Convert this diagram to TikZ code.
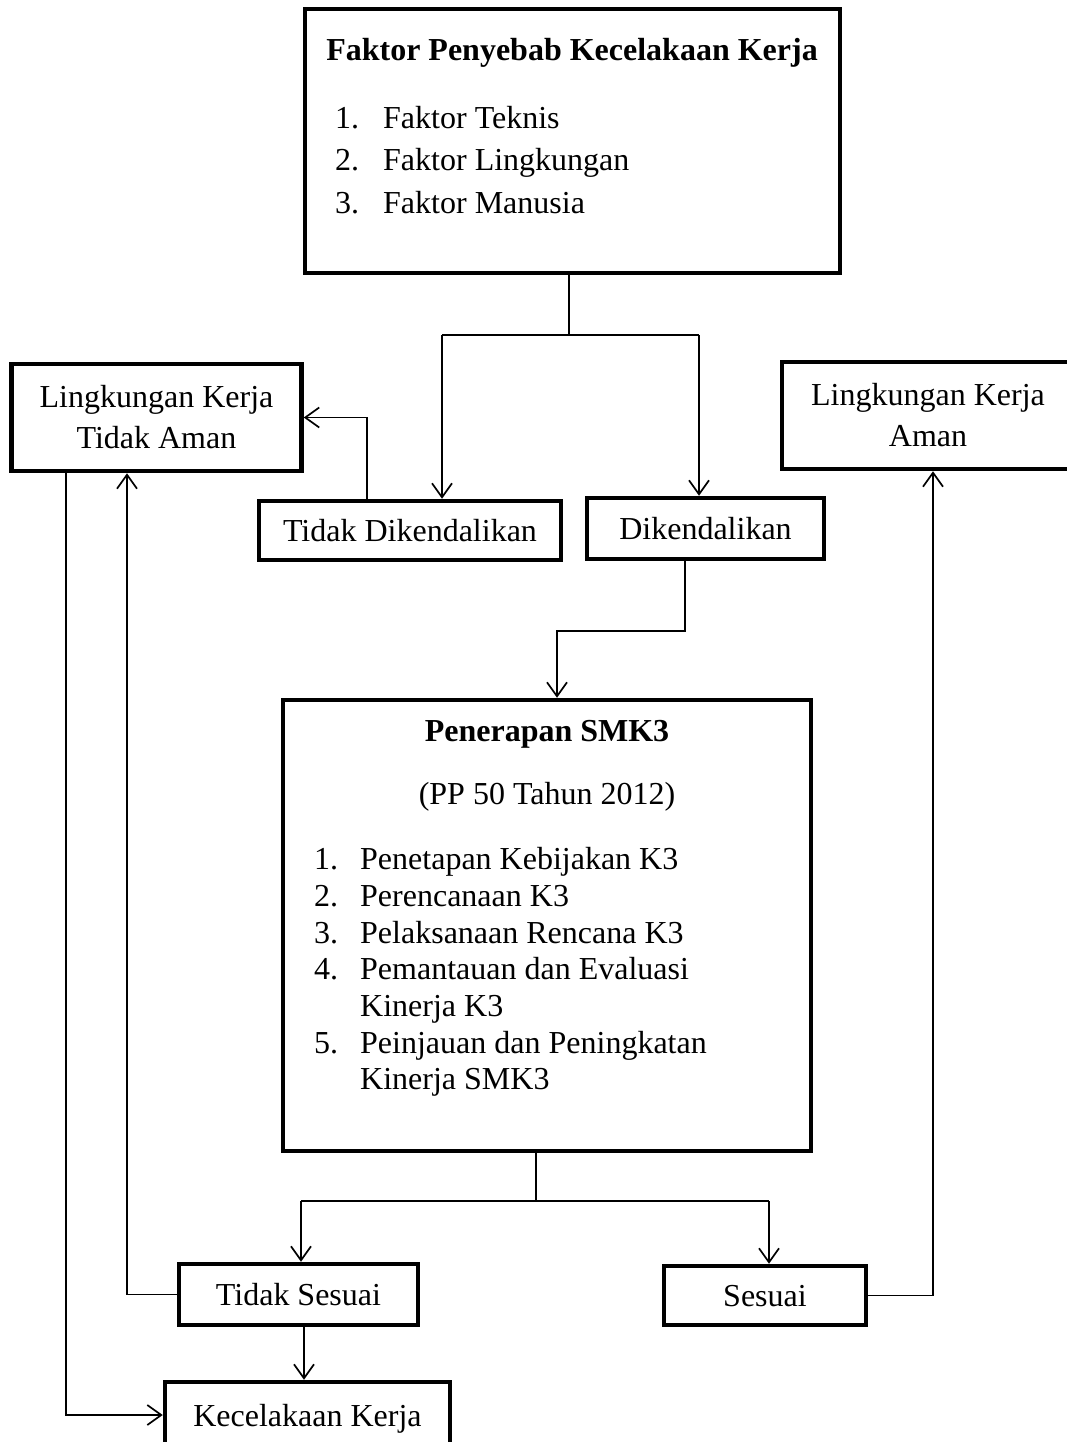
\documentclass[tikz,border=0pt]{standalone}
\usepackage{fontspec}
\setmainfont{Liberation Serif}
\usetikzlibrary{arrows.meta}
\begin{document}
\begin{tikzpicture}[x=1pt,y=-1pt,
  font=\fontsize{32}{41}\selectfont,
  box/.style={draw, line width=4.5pt, inner sep=0pt, align=center},
  sbox/.style={box, text height=22pt, text depth=0pt},
  txt/.style={inner sep=0pt, text height=22pt, text depth=0pt},
  conn/.style={line width=1.7pt},
  arr/.style={conn, -{Straight Barb[length=14pt,width=20pt]}}]
\useasboundingbox (0,0) rectangle (1067,1442);
\clip (0,0) rectangle (1067,1442);

% top box
\node[box, minimum width=535pt, minimum height=264pt] (top) at (572.5,141) {};
\node[txt, font=\fontsize{32}{41}\selectfont\bfseries] (toptitle) at (572,50) {Faktor Penyebab Kecelakaan Kerja};
\node[txt, anchor=west] (tn1) at (335,118) {1.};
\node[txt, anchor=west] (tt1) at (383,118) {Faktor Teknis};
\node[txt, anchor=west] (tn2) at (335,160) {2.};
\node[txt, anchor=west] (tt2) at (383,160) {Faktor Lingkungan};
\node[txt, anchor=west] (tn3) at (335,203) {3.};
\node[txt, anchor=west] (tt3) at (383,203) {Faktor Manusia};

% side boxes
\node[box, minimum width=290pt, minimum height=107pt] (ltd) at (156.5,417.5) {Lingkungan Kerja\\Tidak Aman};
\node[box, minimum width=292pt, minimum height=107pt] (lka) at (928,415.5) {Lingkungan Kerja\\Aman};

% control boxes
\node[sbox, minimum width=302pt, minimum height=59pt] (tdk) at (410,530.5) {Tidak Dikendalikan};
\node[sbox, minimum width=237pt, minimum height=61pt] (dk) at (705.5,528.5) {Dikendalikan};

% Penerapan box
\node[box, minimum width=528pt, minimum height=451pt] (pen) at (547,925.5) {};
\node[txt, font=\fontsize{32}{41}\selectfont\bfseries] (pentitle) at (547,730) {Penerapan SMK3};
\node[txt] (pensub) at (547,793) {(PP 50 Tahun 2012)};
\node[txt, anchor=west] (pn1) at (314,858) {1.};
\node[txt, anchor=west] (pt1) at (360,858) {Penetapan Kebijakan K3};
\node[txt, anchor=west] (pn2) at (314,895) {2.};
\node[txt, anchor=west] (pt2) at (360,895) {Perencanaan K3};
\node[txt, anchor=west] (pn3) at (314,932) {3.};
\node[txt, anchor=west] (pt3) at (360,932) {Pelaksanaan Rencana K3};
\node[txt, anchor=west] (pn4) at (314,968) {4.};
\node[txt, anchor=west] (pt4) at (360,968) {Pemantauan dan Evaluasi};
\node[txt, anchor=west] (pt4b) at (360,1005) {Kinerja K3};
\node[txt, anchor=west] (pn5) at (314,1042) {5.};
\node[txt, anchor=west] (pt5) at (360,1042) {Peinjauan dan Peningkatan};
\node[txt, anchor=west] (pt5b) at (360,1078) {Kinerja SMK3};

% result boxes
\node[sbox, minimum width=239pt, minimum height=61pt] (ts) at (298.5,1294.5) {Tidak Sesuai};
\node[sbox, minimum width=202pt, minimum height=59pt] (s) at (765,1295.5) {Sesuai};
\node[sbox, minimum width=285pt, minimum height=66pt] (kk) at (307.5,1415) {Kecelakaan Kerja};

% helper coordinates
\coordinate (split) at (569,335);
\coordinate (sl) at (442,335);
\coordinate (sr) at (699,335);
\coordinate (c1) at (367,0);
\coordinate (c2) at (685,631);
\coordinate (c3) at (557,0);
\coordinate (psplit) at (536,1201);
\coordinate (pl) at (301,1201);
\coordinate (pr) at (769,1201);
\coordinate (c4) at (127,0);
\coordinate (c5) at (933,0);
\coordinate (c6) at (66,0);
\coordinate (c7) at (304,0);

% connectors
\draw[conn] (top.south -| split) -- (split);
\draw[conn] (sl) -- (sr);
\draw[arr] (sl) -- (sl |- tdk.north);
\draw[arr] (sr) -- (sr |- dk.north);
\draw[arr] (c1 |- tdk.north) |- (ltd.east);
\draw[arr] (c2 |- dk.south) -- (c2) -| (c3 |- pen.north);
\draw[conn] (pen.south -| psplit) -- (psplit);
\draw[conn] (pl) -- (pr);
\draw[arr] (pl) -- (pl |- ts.north);
\draw[arr] (pr) -- (pr |- s.north);
\draw[arr] (ts.west) -| (c4 |- ltd.south);
\draw[arr] (s.east) -| (c5 |- lka.south);
\draw[arr] (c6 |- ltd.south) |- (kk.west);
\draw[arr] (c7 |- ts.south) -- (c7 |- kk.north);
\end{tikzpicture}
\end{document}
